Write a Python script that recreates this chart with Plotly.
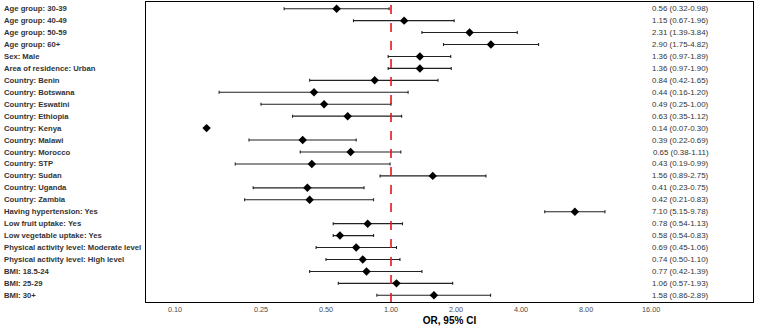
import plotly.graph_objects as go
import math

labels = [
    "Age group: 30-39", "Age group: 40-49", "Age group: 50-59", "Age group: 60+",
    "Sex: Male", "Area of residence: Urban",
    "Country: Benin", "Country: Botswana", "Country: Eswatini", "Country: Ethiopia",
    "Country: Kenya", "Country: Malawi", "Country: Morocco", "Country: STP",
    "Country: Sudan", "Country: Uganda", "Country: Zambia",
    "Having hypertension: Yes", "Low fruit uptake: Yes", "Low vegetable uptake: Yes",
    "Physical activity level: Moderate level", "Physical activity level: High level",
    "BMI: 18.5-24", "BMI: 25-29", "BMI: 30+",
]
or_vals = [0.56, 1.15, 2.31, 2.90, 1.36, 1.36, 0.84, 0.44, 0.49, 0.63, 0.14, 0.39, 0.65, 0.43,
           1.56, 0.41, 0.42, 7.10, 0.78, 0.58, 0.69, 0.74, 0.77, 1.06, 1.58]
ci_low = [0.32, 0.67, 1.39, 1.75, 0.97, 0.97, 0.42, 0.16, 0.25, 0.35, 0.07, 0.22, 0.38, 0.19,
          0.89, 0.23, 0.21, 5.15, 0.54, 0.54, 0.45, 0.50, 0.42, 0.57, 0.86]
ci_high = [0.98, 1.96, 3.84, 4.82, 1.89, 1.90, 1.65, 1.20, 1.00, 1.12, 0.30, 0.69, 1.11, 0.99,
           2.75, 0.75, 0.83, 9.78, 1.13, 0.83, 1.06, 1.10, 1.39, 1.93, 2.89]
tick_vals = [0.10, 0.25, 0.50, 1.00, 2.00, 4.00, 8.00, 16.00]

n = len(labels)
rows = list(range(n))

W, H = 757, 329
L, R, T, B = 146, 4, 2, 27
xmin, xmax = 0.0734, 47.4
PW = W - L - R

fig = go.Figure()

# error bars only for rows whose CI lies within the axis range
eb_idx = [i for i in rows if ci_low[i] >= xmin and ci_high[i] <= xmax]
fig.add_trace(go.Scatter(
    x=[or_vals[i] for i in eb_idx], y=[i for i in eb_idx], mode="markers",
    marker=dict(size=1, color="rgba(0,0,0,0)"),
    error_x=dict(type="data", symmetric=False,
                 array=[ci_high[i] - or_vals[i] for i in eb_idx],
                 arrayminus=[or_vals[i] - ci_low[i] for i in eb_idx],
                 color="#222222", thickness=1.1, width=1.5),
    hoverinfo="skip", showlegend=False))

fig.add_trace(go.Scatter(
    x=or_vals, y=rows, mode="markers",
    marker=dict(symbol="diamond", size=6.5, color="black"),
    showlegend=False))

annotations = []
for i, lab in enumerate(labels):
    annotations.append(dict(
        x=0, xref="paper", xshift=2 - L, y=i, yref="y", text="<b>" + lab + "</b>",
        showarrow=False, xanchor="left", yanchor="middle",
        font=dict(family="Liberation Sans, Arial", size=7.7, color="#333333")))
    annotations.append(dict(
        x=1, xref="paper", xshift=711 - (W - R), y=i, yref="y",
        text=f"{or_vals[i]:.2f} ({ci_low[i]:.2f}-{ci_high[i]:.2f})",
        showarrow=False, xanchor="right", yanchor="middle",
        font=dict(family="Liberation Sans, Arial", size=7.9, color="#333333")))

fig.update_layout(
    width=W, height=H, margin=dict(l=L, r=R, t=T, b=B),
    paper_bgcolor="white", plot_bgcolor="white",
    annotations=annotations,
    shapes=[dict(type="line", xref="x", yref="paper", x0=1, x1=1, y0=0, y1=1,
                 line=dict(color="#e8141c", width=1.6, dash="dash"))],
    xaxis=dict(type="log", range=[math.log10(xmin), math.log10(xmax)],
               tickvals=tick_vals, ticktext=[f"{v:.2f}" for v in tick_vals],
               showgrid=False, zeroline=False, showline=True, mirror=True,
               linecolor="black", linewidth=1.2, ticks="",
               tickfont=dict(family="Liberation Sans, Arial", size=7.3, color="#4d4d4d"),
               title=dict(text="<b>OR, 95% CI</b>", standoff=4,
                          font=dict(family="Liberation Sans, Arial", size=10, color="black"))),
    yaxis=dict(range=[n - 1 + 0.56, -0.56], showticklabels=False, showgrid=False,
               zeroline=False, showline=True, mirror=True, linecolor="black",
               linewidth=1.2, ticks=""),
)

fig.write_html("out.html")
